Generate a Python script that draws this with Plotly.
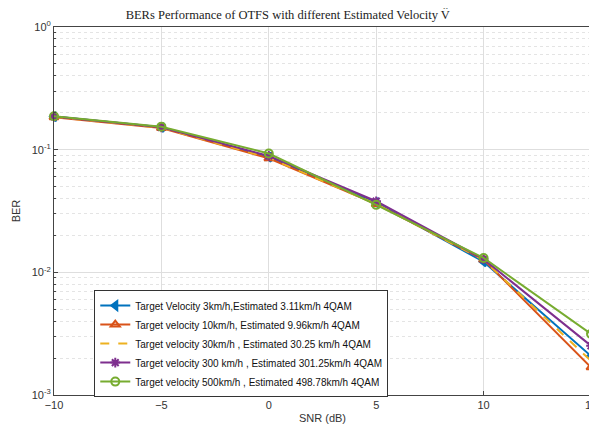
import plotly.graph_objects as go

snr = [-10, -5, 0, 5, 10, 15]
names = [
    "Target Velocity 3km/h,Estimated 3.11km/h 4QAM",
    "Target velocity 10km/h, Estimated 9.96km/h 4QAM",
    "Target velocity 30km/h , Estimated 30.25 km/h 4QAM",
    "Target velocity 300 km/h , Estimated 301.25km/h 4QAM",
    "Target velocity 500km/h , Estimated 498.78km/h 4QAM",
]
ber_3 = [0.186, 0.152, 0.087, 0.037, 0.0122, 0.00208]
ber_10 = [0.184, 0.150, 0.085, 0.036, 0.0127, 0.00168]
ber_30 = [0.185, 0.151, 0.086, 0.036, 0.0126, 0.00190]
ber_300 = [0.186, 0.152, 0.089, 0.038, 0.0128, 0.00252]
ber_500 = [0.187, 0.154, 0.093, 0.0355, 0.0131, 0.00315]
y_tickvals = [1, 0.1, 0.01, 0.001]
y_ticktext = ["10<sup>0</sup>", "10<sup>-1</sup>", "10<sup>-2</sup>", "10<sup>-3</sup>"]

colors = ["#0072BD", "#D95319", "#EDB120", "#7E2F8E", "#77AC30"]
symbols = ["triangle-left", "triangle-up-open", None, "asterisk-open", "circle-open"]
dashes = ["solid", "solid", "dash", "solid", "solid"]
series = [ber_3, ber_10, ber_30, ber_300, ber_500]

fig = go.Figure()
for name, ys, c, s, d in zip(names, series, colors, symbols, dashes):
    mode = "lines+markers" if s else "lines"
    marker = dict(symbol=s, size=8, color=c, line=dict(color=c, width=2)) if s else None
    fig.add_trace(go.Scatter(x=snr, y=ys, name=name, mode=mode, cliponaxis=False,
                             line=dict(color=c, width=2, dash=d), marker=marker))

# page body has an 8px margin; figure is sized/offset to compensate
fig.update_layout(
    width=589, height=425,
    margin=dict(l=46, r=6, t=19, b=38),
    paper_bgcolor="white", plot_bgcolor="white",
    title=dict(text="BERs Performance of OTFS with different Estimated Velocity V\u0302",
               x=0.475, xanchor="center", y=0.995, yanchor="top",
               font=dict(family="Liberation Serif", size=12.5, color="#222")),
    font=dict(family="Liberation Sans", size=11, color="#333"),
    legend=dict(x=0.075, y=0.285, xanchor="left", yanchor="top",
                bgcolor="white", bordercolor="#333", borderwidth=1,
                font=dict(size=10, color="#111"), tracegroupgap=0, itemwidth=30),
    showlegend=True,
)
fig.update_xaxes(range=[-10, 15], tickvals=snr, automargin=False, ticklabeloverflow="allow",
                 showgrid=True, gridcolor="#dedede", gridwidth=1,
                 showline=True, linecolor="#444", mirror=True, ticks="inside",
                 ticklen=4, tickcolor="#444", zeroline=False,
                 title=dict(text="SNR (dB)", font=dict(size=11), standoff=4))
fig.update_yaxes(type="log", range=[-3, 0], automargin=False, ticklabeloverflow="allow",
                 tickvals=y_tickvals, ticktext=y_ticktext,
                 showgrid=True, gridcolor="#dedede", gridwidth=1,
                 minor=dict(tickvals=[k * 10 ** e for e in (-3, -2, -1) for k in range(2, 10)],
                            showgrid=True, gridcolor="#e4e4e4", griddash="dot", ticks="inside",
                            ticklen=2, tickcolor="#444"),
                 showline=True, linecolor="#444", mirror=True, ticks="inside",
                 ticklen=4, tickcolor="#444", zeroline=False,
                 title=dict(text="BER", font=dict(size=11), standoff=8))

fig.write_html("out.html")
